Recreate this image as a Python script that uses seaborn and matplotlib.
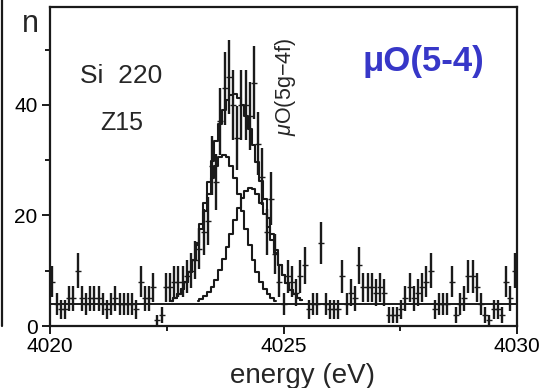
import numpy as np
import pandas as pd
import matplotlib
matplotlib.use("Agg")
import matplotlib.pyplot as plt
from matplotlib.lines import Line2D
import seaborn as sns

sns.set_style("ticks")
plt.rcParams["font.family"] = ["Liberation Sans", "DejaVu Sans"]
plt.rcParams["mathtext.fontset"] = "custom"
plt.rcParams["mathtext.rm"] = "Liberation Sans"
plt.rcParams["mathtext.it"] = "Liberation Sans:italic"

# measured spectrum: counts per energy bin (bin centres start at 4020.05 eV, 0.09 eV wide)
bin_start = 4020.05
bin_width = 0.09
counts = [
    8, 4, 3, 3, 5, 5, 10, 5, 4, 5,
    5, 5, 4, 3, 4, 5, 4, 4, 4, 4,
    3, 8, 5, 5, 7, 1, 2, 7, 7, 8,
    8, 8, 9, 10, 12, 14, 17, 19, 29, 26,
    37, 43, 45, 40, 34, 40, 40, 38, 44, 33,
    27, 17, 23, 13, 8, 4, 9, 8, 6, 9,
    11, 3, 4, 4, 15, 4, 3, 3, 3, 9,
    4, 6, 5, 11, 7, 7, 7, 6, 7, 6,
    2, 2, 2, 3, 5, 7, 5, 6, 7, 8,
    10, 3, 4, 4, 4, 8, 2, 4, 5, 9,
    9, 7, 4, 2, 1, 3, 3, 2, 8, 5, 10,
]
background = 4

# fitted line shapes (sampled every 0.08 eV)
fit_step = 0.08
line1_start = 4022.60
line1 = [4.6, 5.1, 5.7, 6.7, 8.0, 9.8, 12.0, 14.6, 17.6, 20.8, 23.9, 26.8, 29.0, 30.5,
         31.0, 30.5, 29.0, 26.8, 23.9, 20.8, 17.6, 14.6, 12.0, 9.8, 8.0, 6.7, 5.7, 5.1, 4.6]
line2_start = 4023.16
line2 = [4.5, 4.9, 5.4, 6.1, 7.1, 8.4, 10.1, 12.1, 14.3, 16.7, 19.1, 21.3, 23.2, 24.4,
         25.0, 24.8, 23.9, 22.3, 20.3, 17.9, 15.5, 13.2, 11.1, 9.2, 7.7, 6.6, 5.7, 5.1, 4.7]
total_start = 4022.60
total = [4.6, 5.1, 5.7, 6.7, 8.0, 9.8, 12.0, 15.1, 18.5, 22.2, 26.0, 29.9, 33.4, 36.6,
         39.1, 40.8, 41.7, 41.9, 41.2, 40.0, 38.0, 35.6, 32.8, 29.7, 26.3, 23.0, 19.6,
         16.6, 13.8, 11.1, 9.2, 7.7, 6.6, 5.7, 5.1, 4.7]

x_major = [4020, 4025, 4030]
x_minor = [4022.5, 4027.5]
y_major = [0, 20, 40]
y_minor = [10, 30, 50]

ink = "#1a1a1a"

data = pd.DataFrame({"energy": bin_start + bin_width * np.arange(len(counts)),
                     "n": counts})
data["err"] = np.sqrt(data["n"])

fig = plt.figure(figsize=(5.53, 3.88), dpi=100)
ax = fig.add_axes([50 / 553, 1 - 326 / 388, 467 / 553, 319 / 388])

# fitted components and their sum
for start, vals in [(line1_start, line1), (line2_start, line2), (total_start, total)]:
    xs = start + fit_step * np.arange(len(vals))
    sns.lineplot(x=xs, y=vals, ax=ax, color=ink, lw=1.5, drawstyle="steps-mid",
                 estimator=None, sort=False)

ax.axhline(background, color=ink, lw=1.4)

# data points with statistical error bars
ax.vlines(data["energy"], data["n"] - data["err"], data["n"] + data["err"],
          color=ink, lw=1.7)
sns.scatterplot(data=data, x="energy", y="n", ax=ax, marker="_", s=14,
                color=ink, linewidth=1.0, zorder=4)

ax.set_xlim(4020, 4030)
ax.set_ylim(0, 57.7)
ax.set_xticks(x_major)
ax.set_xticks(x_minor, minor=True)
ax.set_yticks(y_major)
ax.set_yticks(y_minor, minor=True)
ax.tick_params(which="major", direction="out", length=6, width=1.4, colors=ink,
               labelsize=15, labelcolor="black")
ax.tick_params(which="minor", direction="out", length=3.5, width=1.4, colors=ink)
ax.tick_params(axis="x", pad=2)
ax.tick_params(axis="y", pad=3)
for side in ["left", "right", "top", "bottom"]:
    ax.spines[side].set_visible(True)
    ax.spines[side].set_linewidth(1.6)
    ax.spines[side].set_color(ink)

ax.set_xlabel("energy (eV)", fontsize=20)
ax.xaxis.set_label_coords((303 - 50) / 467, -0.115)
ax.set_ylabel("")

fig.text(30 / 553, 1 - 24 / 388, "n", fontsize=22, ha="center", va="center")

ax.text(0.064, 0.785, "Si  220", transform=ax.transAxes, fontsize=19,
        ha="left", va="center")
ax.text(0.107, 0.635, "Z15", transform=ax.transAxes, fontsize=18,
        ha="left", va="center")
ax.text(4025.05, 43.3, r"$\mu$O(5g$-$4f)", rotation=90, fontsize=15.5,
        ha="center", va="center")
ax.text(4028.0, 47.8, "μO(5-4)", fontsize=25, fontweight="bold",
        color="#3737c8", ha="center", va="center")

# edge of the neighbouring panel
fig.add_artist(Line2D([0.003, 0.003], [1 - 326 / 388, 1.0], transform=fig.transFigure,
                      color=ink, lw=1.6))

fig.savefig("out.png", dpi=100, facecolor="white")
